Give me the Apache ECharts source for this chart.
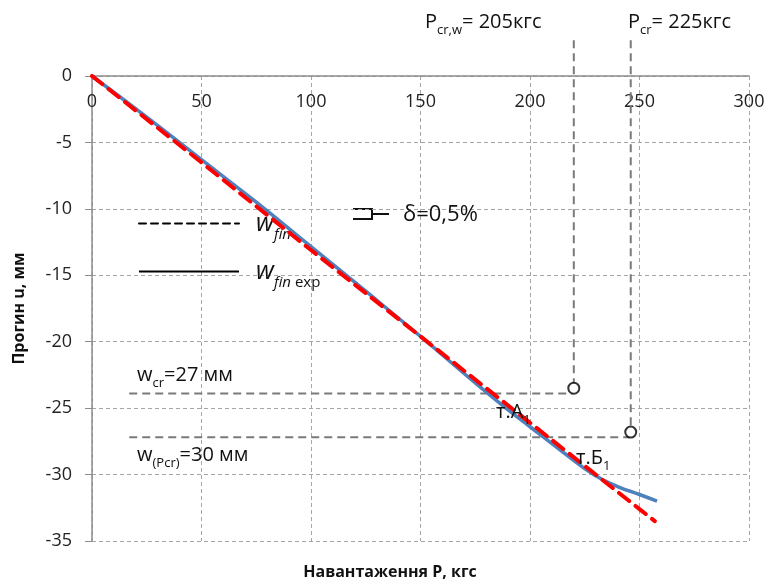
<!DOCTYPE html>
<html>
<head>
<meta charset="utf-8">
<script src="https://cdn.jsdelivr.net/npm/echarts@6/dist/echarts.min.js"></script>
<style>
  html, body { margin: 0; padding: 0; background: #fff; }
  #main { width: 770px; height: 586px; }
</style>
</head>
<body>
<div id="main"></div>
<script>
// theoretical deflection w_fin (red dashed)
var finLoad = [0, 50, 100, 150, 200, 250, 257];
var finDefl = [0, -6.5, -13.1, -19.6, -26.1, -32.6, -33.5];
// experimental deflection w_fin exp (blue)
var expLoad = [0, 25, 50, 75, 100, 125, 150, 175, 189, 200, 215, 229, 240, 250, 258];
var expDefl = [0, -3.1, -6.3, -9.5, -12.85, -16.2, -19.6, -23.1, -25, -26.4, -28.3, -30, -30.9, -31.5, -32];
// critical points A1, B1
var critLoad = [220, 246];
var critDefl = [-23.5, -26.8];
var critLevel = [-23.9, -27.2];
var levelStart = 17;
var topExtent = 2.7;

var FONT = '"Open Sans", "Noto Sans", sans-serif';

function pairs(xs, ys) {
  return xs.map(function (x, i) { return [x, ys[i]]; });
}

var chart = echarts.init(document.getElementById('main'));

var annot = [];
critLoad.forEach(function (p, i) {
  annot.push({
    type: 'line', silent: true, clip: false, symbol: 'none', z: 3,
    lineStyle: { color: '#7a7a7a', width: 2, type: [8, 5] },
    data: [[p, topExtent], [p, critDefl[i] + 0.35]]
  });
  annot.push({
    type: 'line', silent: true, clip: false, symbol: 'none', z: 3,
    lineStyle: { color: '#7a7a7a', width: 2, type: [8, 5] },
    data: [[levelStart, critLevel[i]], [p - 0.5, critLevel[i]]]
  });
});

var sub = { fontSize: 13, fontFamily: FONT, color: '#111', verticalAlign: 'bottom', padding: [0, 0, -5, 0] };
var big = { fontSize: 20, fontFamily: FONT, color: '#111' };

function txt(x, y, str, extra) {
  return {
    type: 'text', x: x, y: y, z: 10,
    style: Object.assign({
      text: str, fontFamily: FONT, fontSize: 20, fill: '#111',
      verticalAlign: 'middle', rich: { b: big, s: sub }
    }, extra || {})
  };
}

// small bracket mark next to delta
var bracket = {
  type: 'group', z: 10,
  children: [
    { type: 'polyline', shape: { points: [[353, 209], [372, 209], [372, 219], [353, 219]] }, style: { stroke: '#111', lineWidth: 2, fill: null } },
    { type: 'line', shape: { x1: 372, y1: 214, x2: 389, y2: 214 }, style: { stroke: '#111', lineWidth: 2 } }
  ]
};

chart.setOption({
  animation: false,
  grid: { left: 92, top: 76, right: 21, bottom: 45, containLabel: false, outerBoundsMode: 'none' },
  legend: {
    orient: 'vertical', left: 133, top: 206, itemWidth: 100, itemHeight: 20, itemGap: 17,
    textStyle: {
      fontFamily: FONT, fontSize: 24, color: '#111', padding: [0, 0, 0, 12],
      rich: {
        i: { fontFamily: FONT, fontSize: 25, fontStyle: 'italic', color: '#111' },
        s: { fontFamily: FONT, fontSize: 15, fontStyle: 'italic', color: '#111', verticalAlign: 'bottom', padding: [0, 0, -6, 0] },
        e: { fontFamily: FONT, fontSize: 15, color: '#111', verticalAlign: 'bottom', padding: [0, 0, -6, 0] }
      }
    },
    formatter: function (name) {
      return name === 'wfin' ? '{i|w}{s|fin}' : '{i|w}{s|fin}{e| exp}';
    },
    data: [
      { name: 'wfin', lineStyle: { color: '#000', width: 2, type: [7, 5] }, itemStyle: { opacity: 0 } },
      { name: 'wfinExp', lineStyle: { color: '#000', width: 2, type: 'solid' }, itemStyle: { opacity: 0 } }
    ]
  },
  xAxis: {
    type: 'value', position: 'top', min: 0, max: 300, interval: 50,
    axisLine: { show: true, lineStyle: { color: '#8c8c8c', width: 1.5 } },
    axisTick: { show: false },
    axisLabel: { inside: true, margin: 17, fontFamily: FONT, fontSize: 18, color: '#222' },
    splitLine: { show: true, lineStyle: { color: '#a6a6a6', type: [4, 3] } }
  },
  yAxis: {
    type: 'value', min: -35, max: 0, interval: 5,
    name: 'Прогин u, мм', nameLocation: 'middle', nameGap: 65, nameRotate: 90,
    nameTextStyle: { fontFamily: FONT, fontSize: 16, fontWeight: 'bold', color: '#111' },
    axisLine: { show: true, lineStyle: { color: '#8c8c8c', width: 1.5 } },
    axisTick: { show: true, length: 7, lineStyle: { color: '#8c8c8c' } },
    axisLabel: { margin: 20, fontFamily: FONT, fontSize: 18, color: '#222' },
    splitLine: { show: true, lineStyle: { color: '#a6a6a6', type: [4, 3] } }
  },
  series: annot.concat([
    {
      name: 'wfinExp', type: 'line', smooth: true, symbol: 'none', z: 5,
      lineStyle: { color: '#4f81bd', width: 3.5 },
      itemStyle: { color: '#4f81bd' },
      data: pairs(expLoad, expDefl)
    },
    {
      name: 'wfin', type: 'line', symbol: 'none', z: 6,
      lineStyle: { color: '#ff0000', width: 4, type: [13, 8], cap: 'round' },
      itemStyle: { color: '#ff0000' },
      data: pairs(finLoad, finDefl)
    },
    {
      type: 'scatter', symbol: 'circle', symbolSize: 11, z: 8, silent: true,
      itemStyle: { color: '#fff', borderColor: '#000', borderWidth: 2 },
      data: pairs(critLoad, critDefl)
    }
  ]),
  graphic: [
    txt(425, 22, '{b|P}{s|cr,w}{b|= 205кгс}'),
    txt(628, 22, '{b|P}{s|cr}{b|= 225кгс}'),
    bracket,
    txt(403, 215, 'δ=0,5%', { fontSize: 22 }),
    txt(137, 375, '{b|w}{s|cr}{b|=27 мм}'),
    txt(137, 455, '{b|w}{s|(Pcr)}{b|=30 мм}'),
    txt(496, 412, '{b|т.А}{s|1}'),
    txt(576, 458, '{b|т.Б}{s|1}'),
    {
      type: 'text', x: 390, y: 572, z: 10,
      style: { text: 'Навантаження P, кгс', fontFamily: FONT, fontSize: 16, fontWeight: 'bold', fill: '#111', align: 'center', verticalAlign: 'middle' }
    }
  ]
});
</script>
</body>
</html>
